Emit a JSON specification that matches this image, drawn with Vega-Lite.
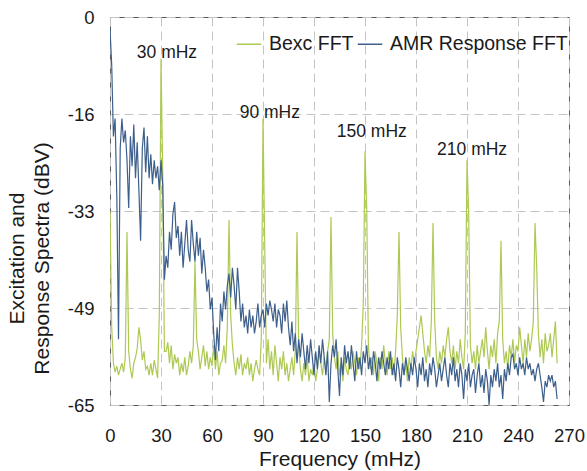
{
  "$schema": "https://vega.github.io/schema/vega-lite/v6.json",
  "width": 459,
  "height": 388,
  "autosize": {"type": "none"},
  "padding": {"left": 110, "top": 17, "right": 18, "bottom": 66},
  "background": "white",
  "config": {
    "font": "Liberation Sans",
    "view": {"stroke": "#5a5a5a", "strokeWidth": 1},
    "axis": {"labelColor": "#1a1a1a", "titleColor": "#1a1a1a", "titleFontWeight": "normal", "domain": false, "ticks": false, "gridColor": "#c4c4c4", "gridDash": [9, 5], "gridWidth": 1}
  },
  "datasets": {
    "spec": [
{"f":0,"g":-32.5,"a":-2},{"f":1,"g":-52,"a":-8},{"f":2,"g":-58,"a":-20},{"f":3,"g":-59.5,"a":-17},{"f":4,"g":-58.5,"a":-30},
{"f":5,"g":-60,"a":-54},{"f":6,"g":-59,"a":-22},{"f":7,"g":-58,"a":-17},{"f":8,"g":-59.5,"a":-21},{"f":9,"g":-57,"a":-19},
{"f":10,"g":-36,"a":-24},{"f":11,"g":-56,"a":-32},{"f":12,"g":-59,"a":-20},{"f":13,"g":-60.5,"a":-25},{"f":14,"g":-58,"a":-18},
{"f":15,"g":-57,"a":-27},{"f":16,"g":-55.5,"a":-21},{"f":17,"g":-52,"a":-29},{"f":18,"g":-54,"a":-37.5},{"f":19,"g":-57.5,"a":-22},
{"f":20,"g":-56,"a":-18.5},{"f":21,"g":-59,"a":-26},{"f":22,"g":-58.5,"a":-20},{"f":23,"g":-60,"a":-27},{"f":24,"g":-58,"a":-23},
{"f":25,"g":-60,"a":-28},{"f":26,"g":-57.5,"a":-24},{"f":27,"g":-59,"a":-27},{"f":28,"g":-60.5,"a":-25},{"f":29,"g":-50,"a":-29},
{"f":30,"g":-7,"a":-24},{"f":31,"g":-26,"a":-28},{"f":32,"g":-56,"a":-44},{"f":33,"g":-56,"a":-40},{"f":34,"g":-54.5,"a":-42},
{"f":35,"g":-58,"a":-36},{"f":36,"g":-55,"a":-39},{"f":37,"g":-59,"a":-33},{"f":38,"g":-56.5,"a":-31},{"f":39,"g":-58,"a":-37},
{"f":40,"g":-57,"a":-35},{"f":41,"g":-60,"a":-40},{"f":42,"g":-58,"a":-36},{"f":43,"g":-59.5,"a":-42},{"f":44,"g":-57,"a":-38},
{"f":45,"g":-60,"a":-34},{"f":46,"g":-58.5,"a":-39},{"f":47,"g":-56,"a":-41},{"f":48,"g":-58,"a":-34},{"f":49,"g":-55,"a":-38},
{"f":50,"g":-41,"a":-41},{"f":51,"g":-54,"a":-36},{"f":52,"g":-56,"a":-40},{"f":53,"g":-59,"a":-37},{"f":54,"g":-57,"a":-43},
{"f":55,"g":-55,"a":-39},{"f":56,"g":-58.5,"a":-42},{"f":57,"g":-56,"a":-46},{"f":58,"g":-59,"a":-44},{"f":59,"g":-57,"a":-49},
{"f":60,"g":-58.5,"a":-47},{"f":61,"g":-55,"a":-53},{"f":62,"g":-59,"a":-57.5},{"f":63,"g":-56,"a":-52},{"f":64,"g":-60,"a":-56},
{"f":65,"g":-58,"a":-48},{"f":66,"g":-57.5,"a":-51},{"f":67,"g":-55,"a":-46},{"f":68,"g":-58,"a":-49},{"f":69,"g":-52,"a":-45},
{"f":70,"g":-34,"a":-43},{"f":71,"g":-50,"a":-47},{"f":72,"g":-55,"a":-42},{"f":73,"g":-58,"a":-45},{"f":74,"g":-60,"a":-49},
{"f":75,"g":-57,"a":-42},{"f":76,"g":-59,"a":-46},{"f":77,"g":-56.5,"a":-51},{"f":78,"g":-60,"a":-48},{"f":79,"g":-58,"a":-52},
{"f":80,"g":-59,"a":-50},{"f":81,"g":-57,"a":-53},{"f":82,"g":-60,"a":-49},{"f":83,"g":-58,"a":-52},{"f":84,"g":-61,"a":-50},
{"f":85,"g":-59,"a":-53},{"f":86,"g":-57.5,"a":-51},{"f":87,"g":-59,"a":-48},{"f":88,"g":-60,"a":-52},{"f":89,"g":-54,"a":-50},
{"f":90,"g":-17,"a":-49},{"f":91,"g":-38,"a":-52},{"f":92,"g":-58,"a":-48},{"f":93,"g":-54,"a":-50},{"f":94,"g":-59,"a":-47.5},
{"f":95,"g":-56,"a":-49},{"f":96,"g":-60,"a":-51},{"f":97,"g":-55,"a":-48},{"f":98,"g":-58,"a":-52},{"f":99,"g":-61,"a":-49},
{"f":100,"g":-57,"a":-50},{"f":101,"g":-59,"a":-53},{"f":102,"g":-56,"a":-48},{"f":103,"g":-60,"a":-51},{"f":104,"g":-58,"a":-47.5},
{"f":105,"g":-61,"a":-52},{"f":106,"g":-59,"a":-55},{"f":107,"g":-57,"a":-51},{"f":108,"g":-60,"a":-56},{"f":109,"g":-56,"a":-53},
{"f":110,"g":-36,"a":-58},{"f":111,"g":-55,"a":-54},{"f":112,"g":-59,"a":-57},{"f":113,"g":-61,"a":-53},{"f":114,"g":-58,"a":-56},
{"f":115,"g":-60,"a":-59},{"f":116,"g":-57,"a":-55},{"f":117,"g":-61,"a":-58},{"f":118,"g":-59,"a":-54},{"f":119,"g":-60,"a":-57},
{"f":120,"g":-58,"a":-60},{"f":121,"g":-61,"a":-56},{"f":122,"g":-59,"a":-59},{"f":123,"g":-56,"a":-55},{"f":124,"g":-58,"a":-58},
{"f":125,"g":-60,"a":-54},{"f":126,"g":-57,"a":-57},{"f":127,"g":-59,"a":-60},{"f":128,"g":-56,"a":-56},{"f":129,"g":-54,"a":-64.5},
{"f":130,"g":-33.5,"a":-58},{"f":131,"g":-53,"a":-55},{"f":132,"g":-57,"a":-57},{"f":133,"g":-59,"a":-54},{"f":134,"g":-56,"a":-59},
{"f":135,"g":-60,"a":-63.5},{"f":136,"g":-58,"a":-57},{"f":137,"g":-61,"a":-60},{"f":138,"g":-57,"a":-55},{"f":139,"g":-59,"a":-58},
{"f":140,"g":-60,"a":-56},{"f":141,"g":-57,"a":-59},{"f":142,"g":-59,"a":-55},{"f":143,"g":-56,"a":-58},{"f":144,"g":-58,"a":-61},
{"f":145,"g":-60,"a":-56},{"f":146,"g":-57,"a":-59},{"f":147,"g":-59,"a":-57},{"f":148,"g":-55,"a":-60},{"f":149,"g":-48,"a":-56},
{"f":150,"g":-22.5,"a":-58},{"f":151,"g":-32,"a":-55},{"f":152,"g":-55,"a":-59},{"f":153,"g":-59,"a":-57},{"f":154,"g":-57,"a":-60},
{"f":155,"g":-60,"a":-56},{"f":156,"g":-56,"a":-58},{"f":157,"g":-58,"a":-61},{"f":158,"g":-61,"a":-57},{"f":159,"g":-57,"a":-59},
{"f":160,"g":-59,"a":-56},{"f":161,"g":-55,"a":-58},{"f":162,"g":-58,"a":-60},{"f":163,"g":-60,"a":-57},{"f":164,"g":-56,"a":-59},
{"f":165,"g":-59,"a":-56},{"f":166,"g":-57,"a":-60},{"f":167,"g":-60,"a":-58},{"f":168,"g":-56,"a":-61},{"f":169,"g":-50,"a":-57},
{"f":170,"g":-36,"a":-59},{"f":171,"g":-52,"a":-62},{"f":172,"g":-57,"a":-58},{"f":173,"g":-60,"a":-60},{"f":174,"g":-58,"a":-57},
{"f":175,"g":-61,"a":-59},{"f":176,"g":-57,"a":-61},{"f":177,"g":-59,"a":-58},{"f":178,"g":-56,"a":-60},{"f":179,"g":-58,"a":-57},
{"f":180,"g":-56,"a":-59},{"f":181,"g":-54,"a":-62},{"f":182,"g":-52,"a":-58},{"f":183,"g":-50,"a":-60},{"f":184,"g":-53,"a":-57},
{"f":185,"g":-56,"a":-61},{"f":186,"g":-58,"a":-59},{"f":187,"g":-55,"a":-62},{"f":188,"g":-57,"a":-58},{"f":189,"g":-51,"a":-60},
{"f":190,"g":-34.5,"a":-57},{"f":191,"g":-51,"a":-59},{"f":192,"g":-57,"a":-62},{"f":193,"g":-59,"a":-60},{"f":194,"g":-56,"a":-58},
{"f":195,"g":-58,"a":-61},{"f":196,"g":-55,"a":-59},{"f":197,"g":-57,"a":-57},{"f":198,"g":-54,"a":-60},{"f":199,"g":-52,"a":-62},
{"f":200,"g":-56,"a":-58},{"f":201,"g":-58,"a":-60},{"f":202,"g":-55,"a":-57},{"f":203,"g":-59,"a":-61},{"f":204,"g":-56,"a":-59},
{"f":205,"g":-58,"a":-62},{"f":206,"g":-54,"a":-58},{"f":207,"g":-57,"a":-60},{"f":208,"g":-59,"a":-64},{"f":209,"g":-53,"a":-59},
{"f":210,"g":-24,"a":-61},{"f":211,"g":-33,"a":-58},{"f":212,"g":-55,"a":-62},{"f":213,"g":-58,"a":-60},{"f":214,"g":-56,"a":-59},
{"f":215,"g":-59,"a":-63},{"f":216,"g":-55,"a":-60},{"f":217,"g":-58,"a":-58},{"f":218,"g":-56,"a":-62},{"f":219,"g":-54,"a":-60},
{"f":220,"g":-57,"a":-63},{"f":221,"g":-52,"a":-59},{"f":222,"g":-56,"a":-61},{"f":223,"g":-59,"a":-65},{"f":224,"g":-55,"a":-60},
{"f":225,"g":-57,"a":-62},{"f":226,"g":-54,"a":-59},{"f":227,"g":-58,"a":-61},{"f":228,"g":-53,"a":-58},{"f":229,"g":-51,"a":-62},
{"f":230,"g":-37.5,"a":-60},{"f":231,"g":-54,"a":-64},{"f":232,"g":-58,"a":-59},{"f":233,"g":-56,"a":-61},{"f":234,"g":-59,"a":-58},
{"f":235,"g":-55,"a":-60},{"f":236,"g":-57,"a":-57},{"f":237,"g":-54,"a":-56.5},{"f":238,"g":-58,"a":-59},{"f":239,"g":-55,"a":-58},
{"f":240,"g":-56,"a":-60},{"f":241,"g":-52,"a":-57},{"f":242,"g":-55,"a":-59},{"f":243,"g":-58,"a":-58},{"f":244,"g":-54,"a":-60},
{"f":245,"g":-57,"a":-57},{"f":246,"g":-53,"a":-59},{"f":247,"g":-56,"a":-58},{"f":248,"g":-54,"a":-60},{"f":249,"g":-51,"a":-59},
{"f":250,"g":-34.5,"a":-61},{"f":251,"g":-42,"a":-59},{"f":252,"g":-53,"a":-58},{"f":253,"g":-57,"a":-60},{"f":254,"g":-54,"a":-62},
{"f":255,"g":-58,"a":-64.5},{"f":256,"g":-53,"a":-61},{"f":257,"g":-56,"a":-62},{"f":258,"g":-55,"a":-60},{"f":259,"g":-53,"a":-61},
{"f":260,"g":-57,"a":-60},{"f":261,"g":-54,"a":-62},{"f":262,"g":-51,"a":-61},{"f":263,"g":-58,"a":-64}
    ],
    "notes": [
      {"f": 33.5, "v": -6, "t": "30 mHz"},
      {"f": 94, "v": -16, "t": "90 mHz"},
      {"f": 154, "v": -19.2, "t": "150 mHz"},
      {"f": 213, "v": -22.3, "t": "210 mHz"}
    ]
  },
  "layer": [
    {
      "data": {"name": "spec"},
      "mark": {"type": "line", "strokeWidth": 1.2, "clip": true},
      "encoding": {
        "x": {"field": "f", "type": "quantitative", "scale": {"domain": [0, 270], "nice": false, "zero": false},
          "axis": {"values": [0, 30, 60, 90, 120, 150, 180, 210, 240, 270], "title": "Frequency (mHz)", "labelFontSize": 18.5, "titleFontSize": 21, "labelPadding": 21, "labelFlush": false, "titlePadding": 4, "grid": true}},
        "y": {"field": "g", "type": "quantitative", "scale": {"domain": [-65, 0], "nice": false, "zero": false},
          "axis": {"values": [-65, -48.75, -32.5, -16.25, 0], "labelExpr": "datum.value == 0 ? '0' : '-' + round(-datum.value)", "title": ["Excitation and", "Response Spectra (dBV)"], "labelFontSize": 18.5, "titleFontSize": 21, "titleLineHeight": 25, "labelPadding": 16, "labelFlush": false, "titleBaseline": "middle", "titleX": -93, "titleY": 241, "grid": true}},
        "color": {"datum": "Bexc FFT", "type": "nominal",
          "scale": {"domain": ["Bexc FFT", "AMR Response FFT"], "range": ["#adc954", "#3d5f8c"]},
          "legend": {"title": null, "orient": "none", "legendX": 126, "legendY": 14, "direction": "horizontal", "symbolType": "stroke", "symbolSize": 600, "symbolStrokeWidth": 1.5, "labelFontSize": 19.5, "labelColor": "#1a1a1a", "labelOffset": 7, "columnPadding": 0, "padding": 0, "labelLimit": 300}}
      }
    },
    {
      "data": {"name": "spec"},
      "mark": {"type": "line", "strokeWidth": 1.2, "clip": true},
      "encoding": {
        "x": {"field": "f", "type": "quantitative"},
        "y": {"field": "a", "type": "quantitative"},
        "color": {"datum": "AMR Response FFT", "type": "nominal"}
      }
    },
    {
      "data": {"name": "notes"},
      "mark": {"type": "text", "fontSize": 17.5, "color": "#1a1a1a", "align": "center", "baseline": "middle"},
      "encoding": {
        "x": {"field": "f", "type": "quantitative"},
        "y": {"field": "v", "type": "quantitative"},
        "text": {"field": "t"}
      }
    }
  ]
}
